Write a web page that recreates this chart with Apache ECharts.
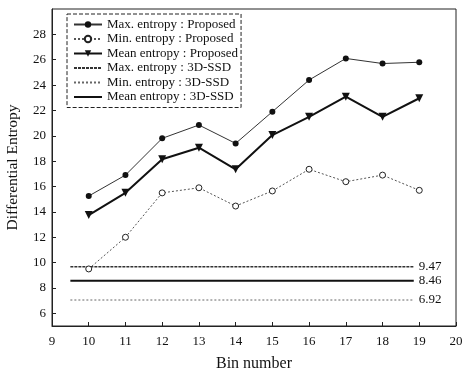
<!DOCTYPE html>
<html lang="en">
<head>
    <meta charset="UTF-8">
    <title>Differential Entropy</title>
    <script src="https://cdn.jsdelivr.net/npm/echarts@6/dist/echarts.min.js"></script>
    <style>
        body { margin: 0; background: #fff; }
        #chart { width: 466px; height: 372px; }
    </style>
</head>
<body>
<div id="chart"></div>
<script>
    // bin numbers
    var bins = [10, 11, 12, 13, 14, 15, 16, 17, 18, 19];
    // proposed method
    var maxProposed = [15.25, 16.9, 19.8, 20.85, 19.4, 21.9, 24.4, 26.1, 25.7, 25.8];
    var minProposed = [9.5, 12.0, 15.5, 15.9, 14.46, 15.65, 17.36, 16.38, 16.9, 15.7];
    var meanProposed = [13.75, 15.5, 18.15, 19.06, 17.36, 20.06, 21.5, 23.08, 21.5, 22.96];
    // 3D-SSD reference levels (as drawn) and their printed labels
    var ssdLevels = [9.68, 7.05, 8.57];
    var ssdLabels = ['9.47', '6.92', '8.46'];
    var ssdRange = [9.5, 18.85];
    var yTicks = [6, 8, 10, 12, 14, 16, 18, 20, 22, 24, 26, 28];
    var names = [
        'Max. entropy : Proposed',
        'Min. entropy : Proposed',
        'Mean entropy : Proposed',
        'Max. entropy : 3D-SSD',
        'Min. entropy : 3D-SSD',
        'Mean entropy : 3D-SSD'
    ];

    var font = 'Liberation Serif';

    function pairs(ys) {
        return bins.map(function (b, i) { return [b, ys[i]]; });
    }

    function ssdSeries(i, lineStyle) {
        return {
            name: names[3 + i],
            type: 'line',
            data: [[ssdRange[0], ssdLevels[i]], [ssdRange[1], ssdLevels[i]]],
            symbol: 'none',
            lineStyle: lineStyle,
            // transparent so the legend shows only the line
            itemStyle: { color: 'rgba(0,0,0,0)' },
            endLabel: {
                show: true,
                formatter: ssdLabels[i],
                fontFamily: font,
                fontSize: 13,
                color: '#111',
                distance: 5
            },
            z: 1
        };
    }

    var option = {
        animation: false,
        backgroundColor: '#fff',
        grid: {
            left: 52, right: 10, top: 9, bottom: 46,
            outerBoundsMode: 'none',
            containLabel: false,
            show: true, borderColor: '#222', borderWidth: 1
        },
        legend: {
            orient: 'vertical',
            left: 67, top: 14,
            padding: [4, 3, 4, 6],
            itemWidth: 28, itemHeight: 8, itemGap: 1.5,
            borderColor: '#222', borderWidth: 1, borderType: 'dashed',
            backgroundColor: '#fff',
            textStyle: { fontFamily: font, fontSize: 13, color: '#111' },
            data: names
        },
        xAxis: {
            type: 'value',
            min: 9, max: 20, interval: 1,
            name: 'Bin number',
            nameLocation: 'middle',
            nameGap: 30,
            nameTextStyle: { fontFamily: font, fontSize: 16, color: '#111' },
            axisLine: { lineStyle: { color: '#222' } },
            axisTick: { inside: true, length: 4, lineStyle: { color: '#222' } },
            axisLabel: { fontFamily: font, fontSize: 13, color: '#111', margin: 9 },
            splitLine: { show: false }
        },
        yAxis: {
            type: 'value',
            min: 5, max: 30,
            name: 'Differential Entropy',
            nameLocation: 'middle',
            nameGap: 31,
            nameTextStyle: { fontFamily: font, fontSize: 15.5, color: '#111' },
            axisLine: { show: true, lineStyle: { color: '#222' } },
            axisTick: { inside: true, length: 4, customValues: yTicks, lineStyle: { color: '#222' } },
            axisLabel: { fontFamily: font, fontSize: 13, color: '#111', margin: 6, customValues: yTicks },
            splitLine: { show: false }
        },
        series: [
            {
                name: names[0],
                type: 'line',
                data: pairs(maxProposed),
                symbol: 'circle', symbolSize: 6,
                lineStyle: { color: '#333', width: 1 },
                itemStyle: { color: '#111' },
                z: 3
            },
            {
                name: names[1],
                type: 'line',
                data: pairs(minProposed),
                symbol: 'circle', symbolSize: 6,
                lineStyle: { color: '#555', width: 1, type: [2, 2] },
                itemStyle: { color: '#fff', borderColor: '#222', borderWidth: 1 },
                z: 3
            },
            {
                name: names[2],
                type: 'line',
                data: pairs(meanProposed),
                symbol: 'triangle', symbolSize: 8, symbolRotate: 180,
                lineStyle: { color: '#111', width: 2 },
                itemStyle: { color: '#111' },
                z: 3
            },
            ssdSeries(0, { color: '#333', width: 1.5, type: [3, 1] }),
            ssdSeries(1, { color: '#666', width: 1, type: [2, 2] }),
            ssdSeries(2, { color: '#111', width: 2 })
        ]
    };

    var myChart = echarts.init(document.getElementById('chart'));
    myChart.setOption(option);
</script>
</body>
</html>
